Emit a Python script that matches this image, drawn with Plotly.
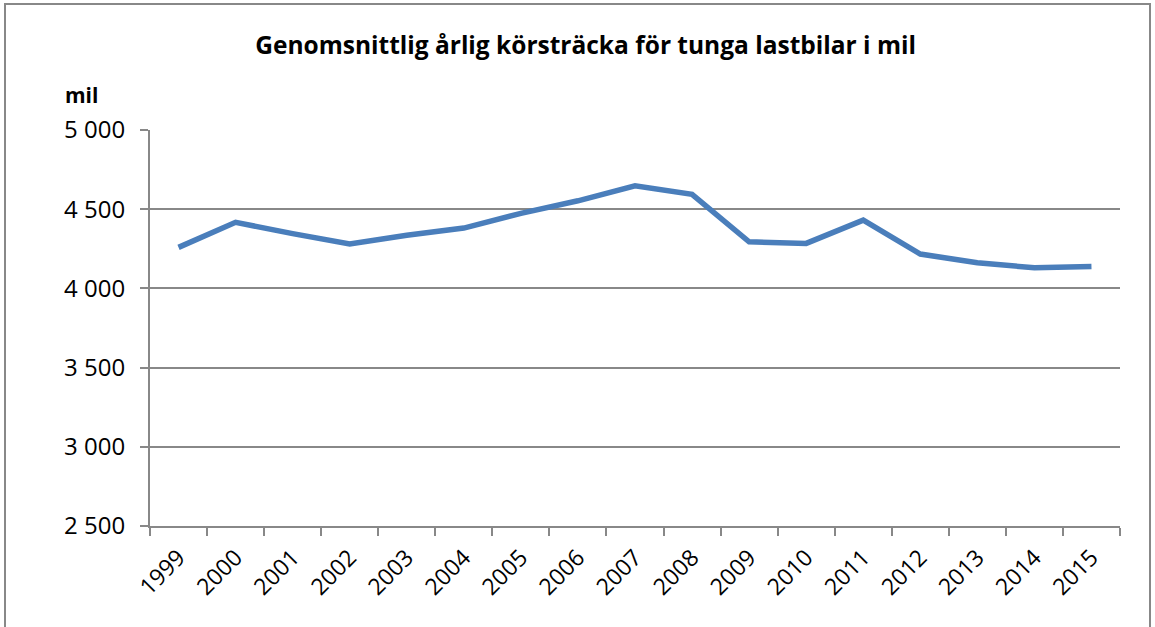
import plotly.graph_objects as go

years = ["1999", "2000", "2001", "2002", "2003", "2004", "2005", "2006", "2007",
         "2008", "2009", "2010", "2011", "2012", "2013", "2014", "2015"]
mil = [4259, 4417, 4346, 4280, 4335, 4381, 4474, 4553, 4648,
       4594, 4294, 4284, 4431, 4217, 4162, 4130, 4139]

title_text = "Genomsnittlig årlig körsträcka för tunga lastbilar i mil"
unit_text = "mil"

FONT = "Open Sans"
GRAY = "#888888"

fig = go.Figure()
fig.add_trace(go.Scatter(
    x=years, y=mil, mode="lines",
    line=dict(color="#4a7ebb", width=5.5),
    hoverinfo="x+y",
))

fig.update_layout(
    width=1155, height=627,
    margin=dict(l=150, r=35, t=130, b=101),
    paper_bgcolor="white", plot_bgcolor="white",
    separators=", ",
    showlegend=False,
    font=dict(family=FONT, color="black"),
    title=dict(text="<b>" + title_text + "</b>", x=0.507, xanchor="center",
               y=1 - 45 / 627, yanchor="middle", font=dict(size=24.5, family=FONT)),
    xaxis=dict(
        type="category", showgrid=False, showline=True, linecolor=GRAY, linewidth=2,
        ticks="outside", ticklen=8, tickcolor=GRAY, tickwidth=2, tickson="boundaries",
        tickangle=-45, tickfont=dict(size=23, family=FONT), ticklabelstandoff=7,
        range=[-0.5, len(years) - 0.5], zeroline=False,
    ),
    yaxis=dict(
        range=[2500, 5000], dtick=500, tick0=2500, tickformat=",d",
        showgrid=True, gridcolor=GRAY, gridwidth=1.5,
        showline=True, linecolor=GRAY, linewidth=2,
        ticks="outside", ticklen=8, tickcolor=GRAY, tickwidth=2,
        tickfont=dict(size=24, family=FONT), zeroline=False, ticklabelstandoff=10,
    ),
)

fig.add_annotation(text="<b>" + unit_text + "</b>", xref="paper", yref="paper",
                   x=(63 - 150) / 970, y=(526 - 95) / 396, xanchor="left", yanchor="middle",
                   showarrow=False, font=dict(size=21, family=FONT))

fig.add_shape(type="rect", xref="paper", yref="paper",
              x0=(5 - 150) / 970, x1=(1150 - 150) / 970,
              y0=(526 - 640) / 396, y1=(526 - 4) / 396,
              line=dict(color=GRAY, width=2), fillcolor="rgba(0,0,0,0)", layer="below")

fig.write_html("out.html", config={"displayModeBar": False},
               post_script="document.body.style.margin='0';document.body.style.padding='0';")
